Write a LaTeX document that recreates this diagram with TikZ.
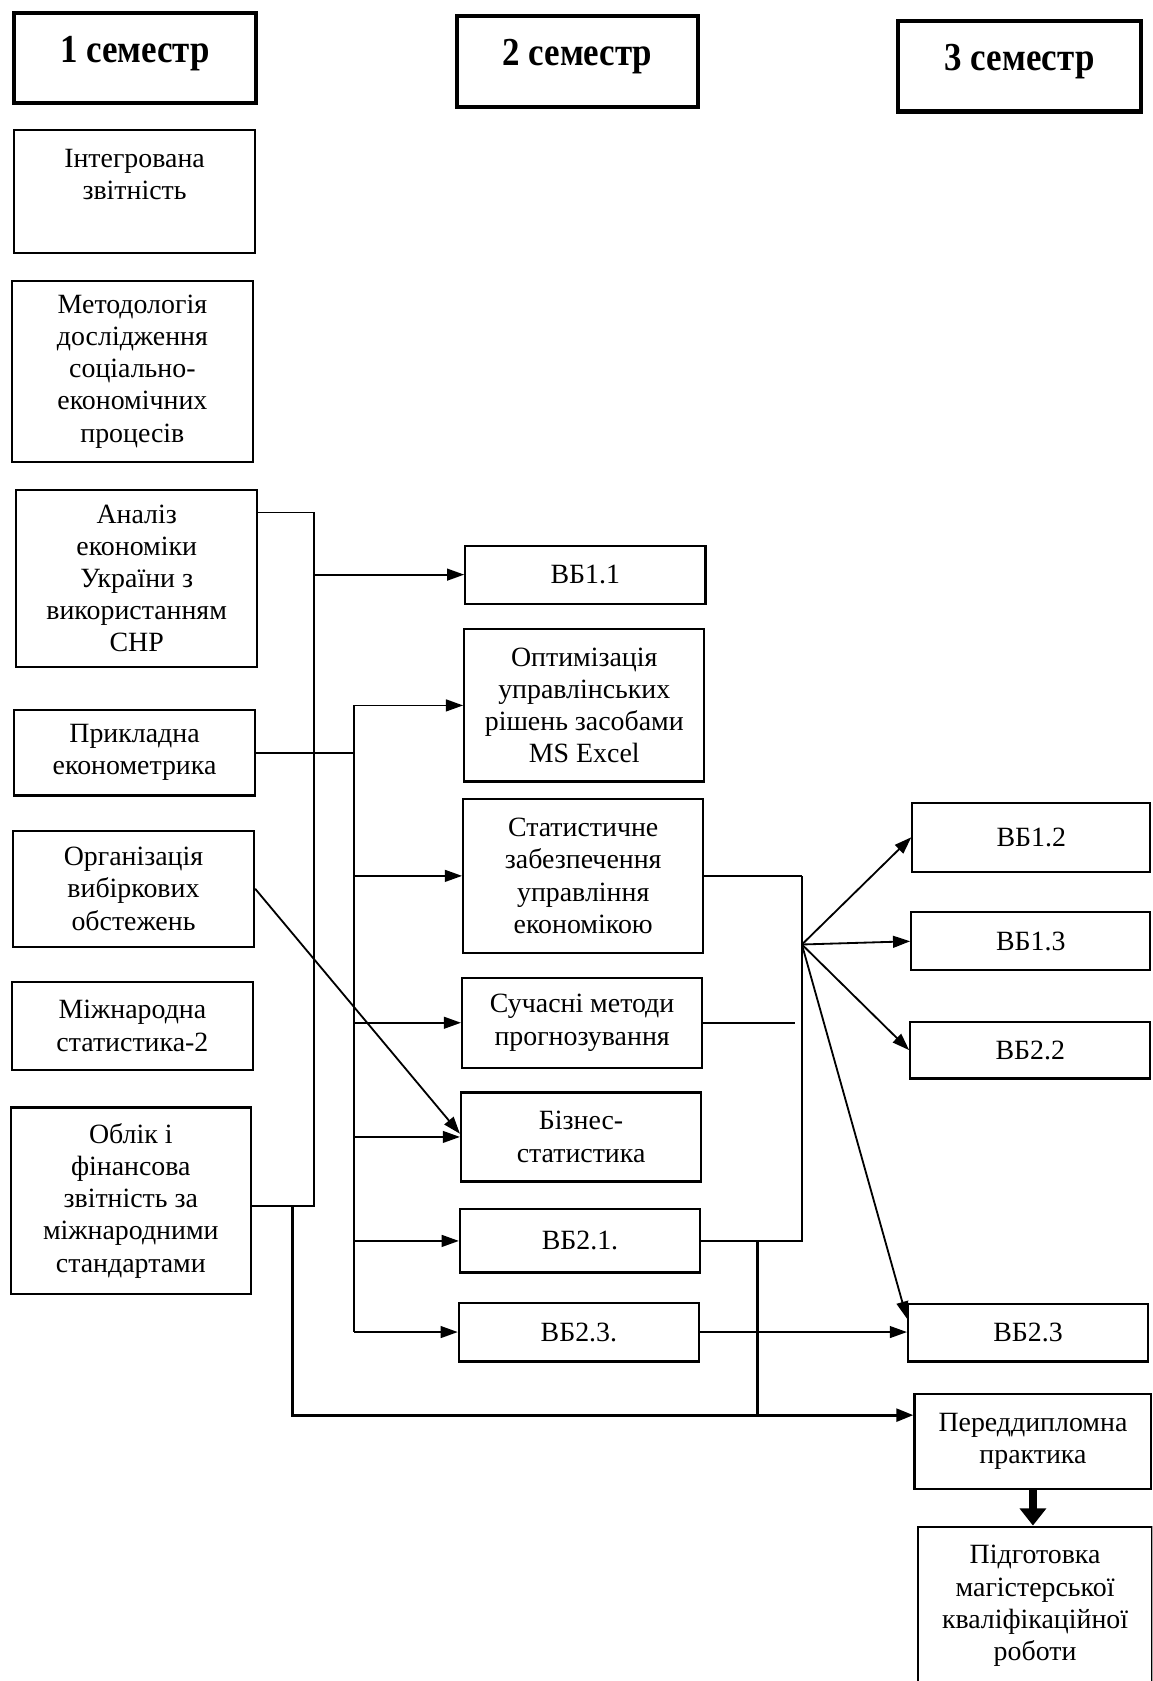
\documentclass[tikz,border=0pt]{standalone}
\usepackage{fontspec}
\setmainfont{Liberation Serif}
\usetikzlibrary{arrows.meta}
\newcommand\bx[7][]{\node[box,#1,minimum width={(#5-#3)*1pt},minimum height={(#6-#4)*1pt}] (#2) at ({(#3+#5)/2},{(#4+#6)/2}) {#7};}
\newcommand\hdtext[1]{\scalebox{0.88}[1]{#1}}
\begin{document}
\begin{tikzpicture}[x=1pt,y=-1pt,
  box/.style={draw, line width=2pt, inner sep=0pt, align=center, font=\fontsize{26}{30}\selectfont},
  hdr/.style={line width=3.8pt, text height=26pt, text depth=18pt, font=\fontsize{37}{42}\selectfont\bfseries},
  ln/.style={line width=1.7pt},
  arr/.style={ln, -{Triangle[length=16pt,width=11pt]}},
  fatln/.style={line width=2.8pt},
  fatarr/.style={fatln, -{Triangle[length=16pt,width=12pt]}},
  blockarr/.style={line width=8pt, -{Triangle[length=16pt,width=24pt]}}
]
\path[use as bounding box] (0,0) rectangle (1075,1568);
\clip (0,0) rectangle (1075,1568);
\fill[white] (0,0) rectangle (1075,1568);
% headers
\bx[hdr]{h1}{13}{12}{239}{96}{\hdtext{1 семестр}}
\bx[hdr]{h2}{426}{15}{651}{100}{\hdtext{2 семестр}}
\bx[hdr]{h3}{838}{20}{1064}{104}{\hdtext{3 семестр}}
% column 1
\bx[text depth=32pt]{int}{13}{121}{238}{236}{Інтегрована\\звітність}
\bx{met}{11}{262}{236}{431}{Методологія\\дослідження\\соціально-\\економічних\\процесів}
\bx{an}{15}{457}{240}{622}{Аналіз\\економіки\\України з\\використанням\\СНР}
\bx{pr}{13}{662}{238}{742}{Прикладна\\економетрика}
\bx{org}{12}{775}{237}{883}{Організація\\вибіркових\\обстежень}
\bx{mz}{11}{916}{236}{998}{Міжнародна\\статистика-2}
\bx{ob}{10}{1033}{234}{1207}{Облік і\\фінансова\\звітність за\\міжнародними\\стандартами}
% column 2
\bx{vb11}{434}{509}{658}{563}{ВБ1.1}
\bx{opt}{433}{587}{657}{729}{Оптимізація\\управлінських\\рішень засобами\\MS Excel}
\bx{stat}{432}{745}{656}{889}{Статистичне\\забезпечення\\управління\\економікою}
\bx{such}{431}{912}{655}{996}{Сучасні методи\\прогнозування}
\bx{biz}{430}{1019}{654}{1102}{Бізнес-\\статистика}
\bx{vb21}{429}{1128}{653}{1187}{ВБ2.1.}
\bx{vb23a}{428}{1215}{652}{1270}{ВБ2.3.}
% column 3
\bx{vb12}{851}{749}{1073}{813}{ВБ1.2}
\bx{vb13}{850}{851}{1073}{905}{ВБ1.3}
\bx{vb22}{849}{953}{1073}{1006}{ВБ2.2}
\bx{vb23b}{847}{1216}{1071}{1270}{ВБ2.3}
\bx{perd}{853}{1300}{1074}{1389}{Переддипломна\\практика}
\bx{pidg}{856}{1424}{1075}{1572}{Підготовка\\магістерської\\кваліфікаційної\\роботи}
% junctions
\coordinate (j1t) at (293,478);
\coordinate (j1b) at (293,1125);
\coordinate (j2t) at (330,658);
\coordinate (j2b) at (330,1242.5);
\coordinate (j3t) at (748,817);
\coordinate (j3) at (748,881);
\coordinate (j4) at (273,1125);
\coordinate (j4b) at (273,1320);
\coordinate (j5b) at (707,1320);
% left bus 1
\draw[ln] (an.east |- j1t) -- (j1t) -- (j1b) -- (ob.east |- j1b);
\draw[arr] (j1t |- vb11.west) -- (vb11.west);
% left bus 2
\draw[ln] (pr.east) -- (pr.east -| j2t);
\draw[ln] (j2t) -- (j2b);
\foreach \t in {opt,stat,such,biz,vb21,vb23a}
  \draw[arr] (j2t |- \t.west) -- (\t.west);
\draw[arr] (org.east) -- ([yshift=3pt]biz.west);
% right bus
\draw[ln] (stat.east) -- (stat.east -| j3t);
\draw[ln] (such.east) -- ([xshift=-6pt]such.east -| j3t);
\draw[ln] (vb21.east) -- (vb21.east -| j3t) -- (j3t);
\draw[arr] (j3) -- (vb12.west);
\draw[arr] (j3) -- (vb13.west);
\draw[arr] (j3) -- (vb22.west);
\draw[arr] (j3) -- ([yshift=-15pt]vb23b.north west);
\draw[arr] (vb23a.east) -- (vb23a.east -| vb23b.west);
% bottom
\draw[fatarr] (j4) -- (j4b) -- (j4b -| perd.west);
\draw[fatln] (vb21.east -| j5b) -- (j5b);
\draw[blockarr] (perd.south) -- (perd.south |- pidg.north);
\end{tikzpicture}
\end{document}
